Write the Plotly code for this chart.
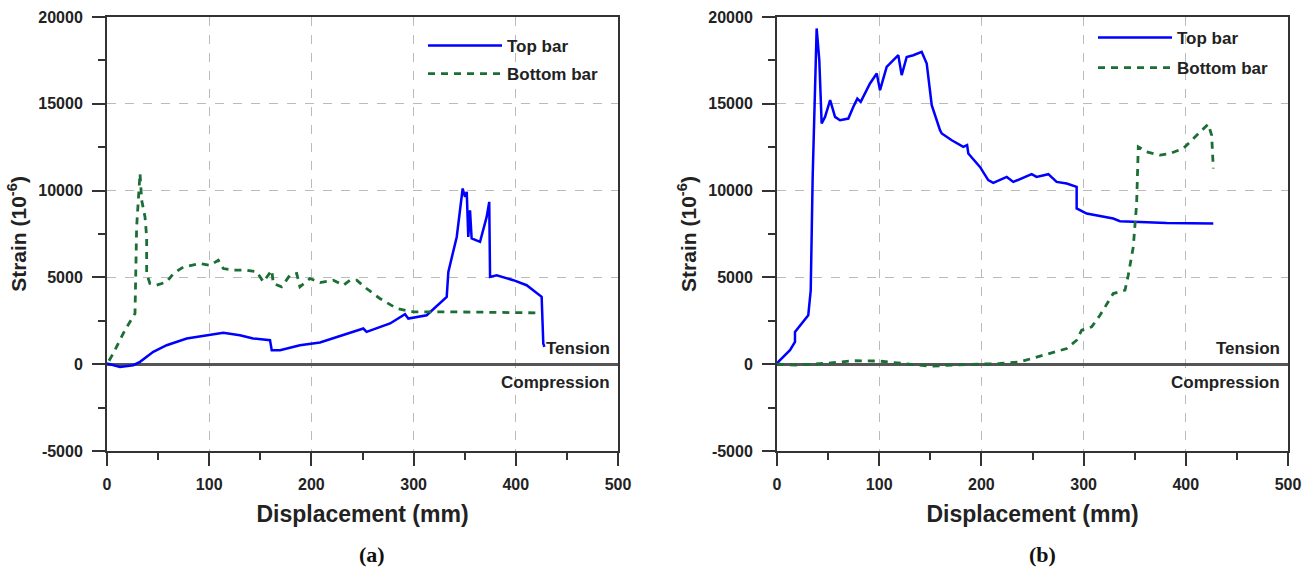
import plotly.graph_objects as go

# ---------------- data: panel (a) ----------------
a_top_x = [0, 12.7, 25.7, 32.3, 45.3, 58.4, 78, 100.8, 113.8, 130, 143, 159.5, 161.2, 169.3,
           188.8, 208.4, 237.8, 250.8, 254, 277, 291.6, 294.8, 312.8, 332.4, 334, 342.2, 348,
           350.3, 352, 353.5, 355.2, 356.8, 365, 371.5, 374, 374.8, 381.3, 397.6, 410.6, 425.3,
           426.9, 428]
a_top_y = [40, -155, -58, 134, 710, 1095, 1480, 1710, 1805, 1670, 1480, 1380, 805, 805,
           1095, 1250, 1805, 2055, 1865, 2345, 2880, 2630, 2820, 3880, 5320, 7330, 10120,
           9640, 9925, 7330, 8870, 7240, 7045, 8485, 9350, 5030, 5125, 4840, 4550, 3880,
           1190, 1000]

a_bot_x = [2, 6, 17.6, 25.7, 27.4, 29, 32.3, 33.9, 35.5, 37.2, 38.8, 38.8, 42, 48.6, 58.4, 65,
           74.7, 91, 100.8, 108.9, 113.8, 123.6, 136.7, 146.5, 153, 161.2, 162.7, 170.8, 179,
           185.6, 188.8, 198.6, 208.4, 221.4, 231.2, 237.8, 244.3, 254, 267, 283.5, 299.7,
           338.8, 423.7]
a_bot_y = [200, 616, 1960, 2725, 2920, 7910, 10985, 9450, 8870, 8480, 7330, 5225, 4650, 4550,
           4740, 5225, 5600, 5800, 5700, 5990, 5510, 5415, 5415, 5320, 4740, 5415, 4650, 4455,
           5125, 5225, 4455, 4935, 4700, 4840, 4550, 4840, 4840, 4360, 3785, 3210, 3015,
           3015, 2955]

# ---------------- data: panel (b) ----------------
b_top_x = [0, 1.3, 12.7, 17.6, 17.6, 30.6, 33, 34.9, 38.8, 41.4, 43.7, 47, 52, 56.8, 61.6,
           69.8, 74.6, 78.6, 81.9, 91, 97.6, 100.8, 107.3, 115.5, 118.7, 122, 126.9, 133.4,
           141.6, 146.5, 151.4, 159.5, 161.2, 171, 182.3, 186, 187.2, 198.6, 206.7, 211.6,
           224.8, 231.2, 249.2, 254, 265.5, 273.6, 283.5, 293.2, 293.2, 303, 329, 335.6,
           355.2, 381.3, 426.9]
b_top_y = [0, 134, 805, 1285, 1860, 2820, 4260, 10790, 19340, 17510, 13865, 14245, 15210,
           14245, 14055, 14150, 14820, 15300, 15110, 16170, 16745, 15785, 17125, 17610,
           17800, 16650, 17700, 17800, 17990, 17320, 14920, 13480, 13290, 12900, 12520,
           12620, 12140, 11365, 10600, 10445, 10790, 10500, 10945, 10790, 10945, 10500,
           10410, 10215, 8970, 8680, 8390, 8240, 8200, 8140, 8100]

b_bot_x = [0, 20, 50, 75, 100, 125, 150, 175, 200, 218.2, 237.8, 260.6, 283.5, 293.2, 298.1,
           307.9, 316, 329, 340.5, 343.7, 348.6, 351.9, 353.5, 361.7, 374.8, 384.5, 397.6,
           414, 422, 425.3, 426.9]
b_bot_y = [0, -50, 60, 200, 180, 30, -120, -40, 0, 40, 134, 520, 900, 1380, 1960, 2150, 2820,
           4070, 4260, 5125, 6755, 9255, 12520, 12230, 12040, 12140, 12425, 13380, 13825,
           13190, 11270]

x_ticks = [0, 100, 200, 300, 400, 500]
x_ticktext = ["0", "100", "200", "300", "400", "500"]
y_ticks = [-5000, 0, 5000, 10000, 15000, 20000]
y_ticktext = ["-5000", "0", "5000", "10000", "15000", "20000"]
series_names = ["Top bar", "Bottom bar"]
panel_labels = ["(a)", "(b)"]

BLUE = "#0000ff"
GREEN = "#1b6e34"
AX = "#333333"
FONT = "Liberation Sans"

fig = go.Figure()
panels = [(a_top_x, a_top_y, a_bot_x, a_bot_y, "x", "y", "legend"),
          (b_top_x, b_top_y, b_bot_x, b_bot_y, "x2", "y2", "legend2")]
for k, (tx, ty, bx, by, xa, ya, lg) in enumerate(panels):
    fig.add_trace(go.Scatter(x=tx, y=ty, mode="lines", name=series_names[0],
                             legendgroup="t%d" % k,
                             line=dict(color=BLUE, width=2.5), xaxis=xa, yaxis=ya, legend=lg))
    fig.add_trace(go.Scatter(x=bx, y=by, mode="lines", name=series_names[1],
                             legendgroup="b%d" % k,
                             line=dict(color=GREEN, width=2.8, dash="7px,6px"),
                             xaxis=xa, yaxis=ya, legend=lg))

xdoms = [[107 / 1312, 618 / 1312], [777 / 1312, 1288 / 1312]]
ydom = [1 - 451 / 569, 1 - 17 / 569]

tickfont = dict(family=FONT, size=16, color="#222", weight="bold")
titlefont = dict(family=FONT, size=23, color="#222", weight="bold")

for i, (xk, yk) in enumerate([("xaxis", "yaxis"), ("xaxis2", "yaxis2")]):
    anchor_x = "y" if i == 0 else "y2"
    anchor_y = "x" if i == 0 else "x2"
    fig.layout[xk] = dict(domain=xdoms[i], anchor=anchor_x, range=[0, 500], automargin=False,
                          tickmode="array", tickvals=x_ticks, ticktext=x_ticktext,
                          ticks="outside", ticklen=13, tickwidth=2, ticklabelstandoff=5,
                          tickcolor=AX, showline=True, linecolor=AX, linewidth=2,
                          mirror=True, showgrid=True, gridcolor="#bbbbbb", griddash="dash",
                          gridwidth=1.2, zeroline=False, tickfont=tickfont,
                          minor=dict(dtick=50, ticks="outside", ticklen=7, tickwidth=2,
                                     tickcolor=AX, showgrid=False),
                          title=dict(text="Displacement (mm)", font=titlefont, standoff=14))
    fig.layout[yk] = dict(domain=ydom, anchor=anchor_y, range=[-5000, 20000], automargin=False,
                          tickmode="array", tickvals=y_ticks, ticktext=y_ticktext,
                          ticks="outside", ticklen=13, tickwidth=2, ticklabelstandoff=6,
                          tickcolor=AX, showline=True, linecolor=AX, linewidth=2,
                          mirror=True, showgrid=True, gridcolor="#bbbbbb", griddash="dash",
                          gridwidth=1.2, zeroline=True, zerolinecolor="#555",
                          zerolinewidth=2.5, tickfont=tickfont,
                          minor=dict(dtick=2500, ticks="outside", ticklen=7, tickwidth=2,
                                     tickcolor=AX, showgrid=False),
                          title=dict(text="Strain (10<sup>-6</sup>)",
                                     font=dict(family=FONT, size=21, color="#222",
                                               weight="bold"),
                                     standoff=6))

legfont = dict(family=FONT, size=17, color="#222", weight="bold")
fig.update_layout(
    legend=dict(x=423 / 1312, y=1 - 28 / 569, xanchor="left", yanchor="top",
                bgcolor="rgba(0,0,0,0)", font=legfont, itemwidth=74, tracegroupgap=3),
    legend2=dict(x=1093 / 1312, y=1 - 20 / 569, xanchor="left", yanchor="top",
                 bgcolor="rgba(0,0,0,0)", font=legfont, itemwidth=74, tracegroupgap=5),
)

annfont = dict(family=FONT, size=17, color="#222", weight="bold")
anns = []
for xr in ["x", "x2"]:
    yr = "y" if xr == "x" else "y2"
    anns.append(dict(text="Tension", x=494, y=0, xref=xr, yref=yr, xanchor="right",
                     yanchor="middle", yshift=16, showarrow=False, font=annfont))
    anns.append(dict(text="Compression", x=494, y=0, xref=xr, yref=yr, xanchor="right",
                     yanchor="middle", yshift=-18, showarrow=False, font=annfont))
for lbl, xc in zip(panel_labels, [372, 1042]):
    anns.append(dict(text="<b>" + lbl + "</b>", x=xc / 1312, y=1 - 554 / 569, xref="paper",
                     yref="paper", xanchor="center", yanchor="middle", showarrow=False,
                     font=dict(family="Liberation Serif", size=22, color="#111")))
fig.update_layout(annotations=anns)

fig.update_layout(template="none", width=1312, height=569,
                  margin=dict(l=0, r=0, t=0, b=0, autoexpand=False),
                  paper_bgcolor="white", plot_bgcolor="white", showlegend=True)

fig.write_html("out.html")
